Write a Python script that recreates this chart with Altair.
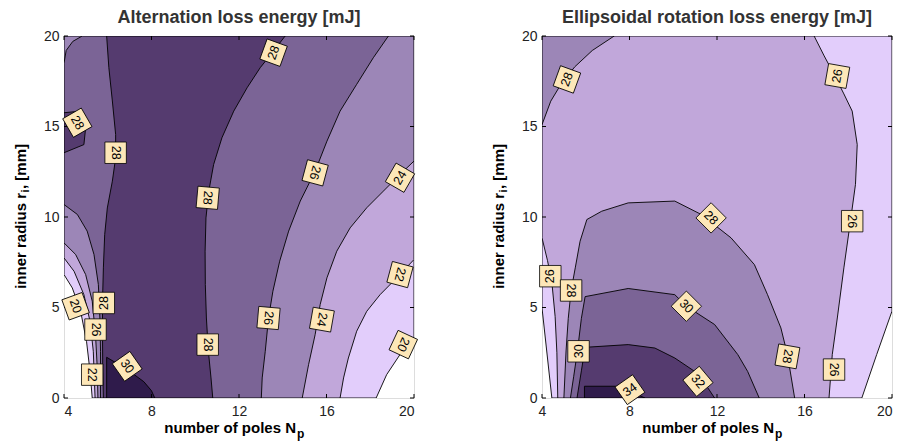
import altair as alt
import pandas as pd

# ---------------- data ----------------
NP_TICKS = [4, 8, 12, 16, 20]
R_TICKS = [0, 5, 10, 15, 20]

BAND_IDS = [1, 2, 3, 4, 5, 6]
BAND_COLORS = ["#e2cdfb", "#c1a7da", "#9c86b7", "#7b6496", "#553b6f", "#2f1b4b"]

TITLE_LEFT = "Alternation loss energy [mJ]"
TITLE_RIGHT = "Ellipsoidal rotation loss energy [mJ]"
X_TITLE = "number of poles N"
X_TITLE_SUB = "p"
Y_TITLE = "inner radius r"
Y_TITLE_SUB = "i"
Y_TITLE_END = ", [mm]"

# Alternation loss energy: outlines (Np, r) of the regions above each contour level
ALT_ABOVE_20 = [(4, 6.82), (4, 20), (20, 20), (20, 3.32), (19.36, 2.4), (18.75, 1.29), (18.27, 0),
                (5.29, 0), (5.19, 1.47), (5.03, 3.13), (4.76, 4.79), (4.38, 6.08)]
ALT_ABOVE_22 = [(4, 7.74), (4, 20), (20, 20), (20, 7.65), (19.21, 6.64), (18.45, 5.71), (17.84, 4.79),
                (17.38, 3.69), (17.0, 2.21), (16.78, 1.11), (16.62, 0), (5.42, 0), (5.34, 2.58),
                (5.19, 4.24), (4.91, 5.71), (4.46, 7.0)]
ALT_ABOVE_24 = [(4, 8.57), (4, 20), (20, 20), (20, 13.09), (19.36, 12.35), (18.6, 11.43), (17.84, 10.51),
                (17.08, 9.4), (16.47, 8.11), (16.02, 6.64), (15.71, 5.16), (15.48, 3.5), (15.18, 1.84),
                (14.89, 0), (5.55, 0), (5.52, 1.66), (5.44, 3.5), (5.29, 5.35), (4.99, 6.82), (4.53, 7.93)]
ALT_ABOVE_26 = [(4, 10.69), (4, 18.5), (4.1, 19.2), (4.4, 19.7), (4.83, 20), (18.83, 20), (18.14, 18.8),
                (17.38, 17.33), (16.62, 15.85), (16.02, 14.19), (15.48, 12.53), (14.8, 10.88),
                (14.27, 9.22), (13.86, 7.56), (13.55, 5.9), (13.35, 4.42), (13.2, 2.58), (13.06, 1.11),
                (13.02, 0), (5.67, 0), (5.67, 2.58), (5.64, 4.42), (5.57, 6.27), (5.37, 7.93),
                (5.06, 9.22), (4.61, 10.14)]
ALT_ABOVE_28_BAND = [(5.95, 20), (14.11, 20), (13.58, 19.17), (12.97, 18.25), (12.37, 17.14),
                     (11.76, 15.85), (11.22, 14.38), (10.84, 12.9), (10.62, 11.43), (10.49, 9.95),
                     (10.45, 8.11), (10.46, 6.27), (10.51, 4.42), (10.6, 2.58), (10.72, 1.11), (10.8, 0),
                     (5.8, 0), (5.77, 1.66), (5.76, 3.5), (5.76, 5.35), (5.8, 7.19), (5.86, 9.03),
                     (5.98, 10.5), (6.21, 11.98), (6.36, 13.27), (6.36, 14.56), (6.21, 16.41), (6.05, 18.25)]
ALT_ABOVE_28_PATCH = [(4, 15.76), (4.76, 15.85), (4.99, 14.93), (4.91, 14.0), (4, 13.55)]
ALT_ABOVE_30 = [(5.95, 0), (5.95, 2.25), (6.3, 2.0), (6.8, 1.65), (7.2, 1.3), (7.65, 0.9), (8.0, 0.4),
                (8.15, 0)]

ALT_REGIONS = [(1, ALT_ABOVE_20), (2, ALT_ABOVE_22), (3, ALT_ABOVE_24), (4, ALT_ABOVE_26),
               (5, ALT_ABOVE_28_BAND), (5, ALT_ABOVE_28_PATCH), (6, ALT_ABOVE_30)]

ALT_LABEL_NP = [13.58, 4.61, 6.36, 10.57, 15.48, 19.36, 19.36, 19.51, 13.35, 15.79, 10.57, 6.89, 5.29, 5.44, 5.82, 4.53]
ALT_LABEL_R = [19.08, 15.21, 13.55, 11.06, 12.44, 12.17, 6.82, 2.95, 4.42, 4.33, 2.95, 1.75, 1.29, 3.78, 5.25, 5.07]
ALT_LABEL_TEXT = ["28", "28", "28", "28", "26", "24", "22", "20", "26", "24", "28", "30", "22", "26", "28", "20"]
ALT_LABEL_ANGLE = [290, 60, 90, 95, 105, 300, 105, 115, 95, 100, 90, 55, 90, 90, 270, 70]

# Ellipsoidal rotation loss energy
ELL_ABOVE_24 = [(4, 4.98), (4, 20), (20, 20), (20, 4.8), (19.3, 2.4), (18.62, 0), (4.45, 0)]
ELL_ABOVE_26 = [(4, 8.85), (4, 20), (16.44, 20), (16.9, 18.9), (17.35, 17.88), (17.8, 16.8), (18.18, 15.85),
                (18.41, 14.0), (18.33, 11.8), (18.1, 9.77), (17.8, 7.19), (17.5, 4.42), (17.27, 2.4),
                (17.12, 0), (4.72, 0), (4.68, 2.5), (4.6, 4.5), (4.45, 6.4), (4.25, 7.6)]
ELL_ABOVE_28_CORNER = [(4, 15.1), (4, 20), (7.3, 20), (6.3, 19.2), (5.5, 18.3), (4.9, 17.4), (4.4, 16.4)]
ELL_ABOVE_28 = [(5.0, 0), (5.1, 2.6), (5.2, 4.4), (5.33, 5.94), (5.52, 7.19), (5.74, 8.66), (6.05, 9.86),
                (6.73, 10.32), (7.94, 10.78), (10.07, 10.88), (11.28, 10.14), (12.64, 8.85), (13.71, 7.37),
                (14.31, 5.71), (14.92, 3.87), (15.22, 2.4), (15.55, 0)]
ELL_ABOVE_30 = [(5.3, 0), (5.45, 1.2), (5.62, 2.6), (5.8, 4.4), (5.97, 5.6), (7.94, 6.05), (10.07, 5.71),
                (10.6, 5.07), (11.89, 4.06), (12.95, 2.4), (13.4, 1.47), (13.93, 0)]
ELL_ABOVE_32 = [(5.6, 0), (5.8, 1.5), (5.97, 2.8), (7.94, 2.95), (9.16, 2.76), (10.07, 2.21), (10.98, 1.47),
                (11.28, 1.11), (11.89, 0)]
ELL_ABOVE_34 = [(5.94, 0), (5.94, 0.65), (7.5, 0.65), (8.1, 0.35), (8.7, 0)]

ELL_REGIONS = [(1, ELL_ABOVE_24), (2, ELL_ABOVE_26), (3, ELL_ABOVE_28_CORNER), (3, ELL_ABOVE_28),
               (4, ELL_ABOVE_30), (5, ELL_ABOVE_32), (6, ELL_ABOVE_34)]

ELL_LABEL_NP = [5.14, 17.5, 11.73, 18.18, 4.38, 5.33, 10.6, 5.67, 15.22, 17.35, 11.13, 8.02]
ELL_LABEL_R = [17.6, 17.79, 9.95, 9.77, 6.73, 5.94, 5.07, 2.58, 2.3, 1.57, 0.92, 0.46]
ELL_LABEL_TEXT = ["28", "26", "28", "26", "26", "28", "30", "30", "28", "26", "32", "34"]
ELL_LABEL_ANGLE = [290, 280, 45, 90, 270, 90, 45, 270, 100, 90, 50, 325]

# ---------------- chart ----------------
H = 362
FONT = "Liberation Sans"
BOX_FILL = "#fde7b8"


def panel(title, regions, lab_np, lab_r, lab_txt, lab_ang, W, flush_last):
    x_axis_kw = dict(values=NP_TICKS, title=None, grid=False, domain=False, ticks=False, tickSize=0,
                     labelPadding=6, labelFontSize=14, labelFont=FONT, labelColor="#222", format="d")
    if flush_last:
        x_axis_kw["labelAlign"] = {"condition": {"test": "datum.value == 20", "value": "right"},
                                   "value": "center"}
    x = alt.X("Np:Q", scale=alt.Scale(domain=[4, 20], nice=False, zero=False), axis=alt.Axis(**x_axis_kw))
    y = alt.Y("r:Q", scale=alt.Scale(domain=[0, 20], nice=False, zero=False),
              axis=alt.Axis(values=R_TICKS, title=None, grid=False, domain=False, ticks=False, tickSize=0,
                            labelPadding=5, labelFontSize=14, labelFont=FONT, labelColor="#222", format="d"))
    fill = alt.Fill("band:O", scale=alt.Scale(domain=BAND_IDS, range=BAND_COLORS), legend=None)

    layers = []
    for band, pts in regions:
        closed = list(pts) + [pts[0]]
        df = pd.DataFrame({"Np": [p[0] for p in closed], "r": [p[1] for p in closed],
                           "i": list(range(len(closed))), "band": [band] * len(closed)})
        layers.append(alt.Chart(df).mark_line(stroke="black", strokeWidth=0.9, clip=True,
                                              strokeJoin="round").encode(x=x, y=y, order="i:Q", fill=fill))

    xt = pd.DataFrame({"Np": NP_TICKS})
    yt = pd.DataFrame({"r": R_TICKS})
    layers.append(alt.Chart(xt).mark_rule(color="black", strokeWidth=1).encode(
        x=x, y=alt.value(H), y2=alt.value(H - 4)))
    layers.append(alt.Chart(xt).mark_rule(color="black", strokeWidth=1).encode(
        x=x, y=alt.value(0), y2=alt.value(4)))
    layers.append(alt.Chart(yt).mark_rule(color="black", strokeWidth=1).encode(
        y=y, x=alt.value(0), x2=alt.value(4)))
    layers.append(alt.Chart(yt).mark_rule(color="black", strokeWidth=1).encode(
        y=y, x=alt.value(W), x2=alt.value(W - 4)))

    lab = pd.DataFrame({"Np": lab_np, "r": lab_r, "txt": lab_txt, "ang": lab_ang})
    ang = alt.Angle("ang:Q", scale=None)
    layers.append(alt.Chart(lab).mark_point(shape="square", filled=True, fill=BOX_FILL, stroke="black",
                                            strokeWidth=0.8, size=460, opacity=1).encode(x=x, y=y, angle=ang))
    layers.append(alt.Chart(lab).mark_text(fontSize=12.5, font=FONT, color="black").encode(
        x=x, y=y, text="txt:N", angle=ang))

    # axis titles with subscripts
    one = pd.DataFrame({"t": [X_TITLE], "s": [X_TITLE_SUB], "yt": [Y_TITLE], "ys": [Y_TITLE_SUB],
                        "ye": [Y_TITLE_END]})
    xe = W / 2 + 57
    layers.append(alt.Chart(one).mark_text(font=FONT, fontSize=15, fontWeight="bold", align="right",
                                           baseline="alphabetic", color="black").encode(
        text="t:N", x=alt.value(xe), y=alt.value(H + 35)))
    layers.append(alt.Chart(one).mark_text(font=FONT, fontSize=12, fontWeight="bold", align="left",
                                           baseline="alphabetic", color="black").encode(
        text="s:N", x=alt.value(xe + 1), y=alt.value(H + 40)))
    ye = H / 2 - 24
    layers.append(alt.Chart(one).mark_text(font=FONT, fontSize=15, fontWeight="bold", align="right",
                                           baseline="alphabetic", angle=270, color="black").encode(
        text="yt:N", x=alt.value(-38.5), y=alt.value(ye)))
    layers.append(alt.Chart(one).mark_text(font=FONT, fontSize=11, fontWeight="bold", align="left",
                                           baseline="alphabetic", angle=270, color="black").encode(
        text="ys:N", x=alt.value(-35), y=alt.value(ye - 0.5)))
    layers.append(alt.Chart(one).mark_text(font=FONT, fontSize=15, fontWeight="bold", align="left",
                                           baseline="alphabetic", angle=270, color="black").encode(
        text="ye:N", x=alt.value(-38.5), y=alt.value(ye - 4)))

    return alt.layer(*layers).properties(
        width=W, height=H,
        title=alt.TitleParams(title, font=FONT, fontSize=18, fontWeight="bold", color="#333",
                              anchor="middle", offset=2))


left = panel(TITLE_LEFT, ALT_REGIONS, ALT_LABEL_NP, ALT_LABEL_R, ALT_LABEL_TEXT, ALT_LABEL_ANGLE, 350, False)
right = panel(TITLE_RIGHT, ELL_REGIONS, ELL_LABEL_NP, ELL_LABEL_R, ELL_LABEL_TEXT, ELL_LABEL_ANGLE, 350, True)

chart = alt.hconcat(left, right, spacing=71).properties(
    padding={"left": 5, "top": 0, "right": 0, "bottom": 0}
).configure_view(stroke="black", strokeWidth=1).configure(background="white")

chart.save("out.html", embed_options={"renderer": "svg", "actions": False})
